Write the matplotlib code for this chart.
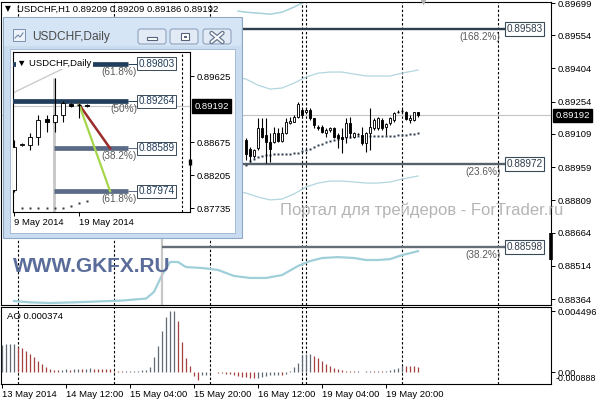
import matplotlib
matplotlib.use('Agg')
import matplotlib.pyplot as plt
from matplotlib.patches import Rectangle, FancyBboxPatch

W, H = 596, 400
FONT = ['Liberation Sans', 'DejaVu Sans']
plt.rcParams['font.family'] = FONT

# ------------------------------------------------------------------ data
symbol_main = 'USDCHF,H1'
symbol_inset = 'USDCHF,Daily'

bar_idx = list(range(61, 105))
opens = [0.89081, 0.89039, 0.89007, 0.89044, 0.89134, 0.89104, 0.89074, 0.89074, 0.89111, 0.89077,
         0.89111, 0.89157, 0.89164, 0.89186, 0.89216, 0.89209, 0.89216, 0.89179, 0.89142, 0.89142,
         0.89112, 0.89127, 0.89134, 0.89104, 0.89097, 0.89097, 0.89157, 0.89097, 0.89107, 0.89104,
         0.89067, 0.89112, 0.89134, 0.89134, 0.89172, 0.89142, 0.89157, 0.89172, 0.89209, 0.89212,
         0.89209, 0.89172, 0.89172, 0.89209]
highs = [0.89092, 0.89051, 0.89040, 0.89179, 0.89179, 0.89182, 0.89111, 0.89141, 0.89134, 0.89141,
         0.89179, 0.89186, 0.89194, 0.89251, 0.89227, 0.89224, 0.89224, 0.89182, 0.89149, 0.89149,
         0.89134, 0.89142, 0.89142, 0.89112, 0.89134, 0.89179, 0.89187, 0.89119, 0.89112, 0.89142,
         0.89119, 0.89224, 0.89179, 0.89187, 0.89179, 0.89157, 0.89187, 0.89209, 0.89216, 0.89221,
         0.89212, 0.89194, 0.89209, 0.89209]
lows = [0.88992, 0.88984, 0.89002, 0.89037, 0.89089, 0.88977, 0.88984, 0.89067, 0.89071, 0.89074,
        0.89107, 0.89152, 0.89161, 0.89182, 0.89186, 0.89201, 0.89171, 0.89134, 0.89127, 0.89112,
        0.89097, 0.89119, 0.89089, 0.89044, 0.89022, 0.89067, 0.89089, 0.89089, 0.89102, 0.89059,
        0.89029, 0.89037, 0.89127, 0.89127, 0.89127, 0.89104, 0.89149, 0.89164, 0.89201, 0.89201,
        0.89172, 0.89157, 0.89167, 0.89186]
closes = [0.89017, 0.89009, 0.89037, 0.89134, 0.89097, 0.89074, 0.89041, 0.89111, 0.89077, 0.89111,
          0.89164, 0.89167, 0.89186, 0.89246, 0.89194, 0.89216, 0.89179, 0.89149, 0.89134, 0.89119,
          0.89127, 0.89134, 0.89097, 0.89089, 0.89086, 0.89157, 0.89112, 0.89112, 0.89108, 0.89067,
          0.89112, 0.89142, 0.89172, 0.89179, 0.89134, 0.89152, 0.89179, 0.89201, 0.89208, 0.89211,
          0.89176, 0.89182, 0.89206, 0.89192]
sar_dots = [0.88968, 0.88985, 0.88996, 0.89003, 0.89008, 0.89012, 0.89015, 0.89017, 0.89018, 0.89018,
            0.89019, 0.89020, 0.89022, 0.89025, 0.89030, 0.89036, 0.89043, 0.89050, 0.89057, 0.89064,
            0.89071, 0.89077, 0.89083, 0.89088, 0.89092, 0.89095, 0.89097, 0.89098, 0.89099, 0.89099,
            0.89100, 0.89100, 0.89100, 0.89101, 0.89101, 0.89101, 0.89101, 0.89101, 0.89102, 0.89102,
            0.89104, 0.89107, 0.89110, 0.89114]

band_ll_idx = [3, 7, 12, 18, 24, 30, 36, 38, 40, 42, 44, 46, 50, 54, 58, 62, 66, 70, 74, 77, 80, 84,
               88, 91, 94, 97, 100, 104]
band_ll = [0.88355, 0.88349, 0.88346, 0.88349, 0.88353, 0.88357, 0.88366, 0.88396, 0.88472, 0.88531,
           0.88531, 0.88508, 0.88504, 0.88495, 0.88468, 0.88459, 0.88459, 0.88472, 0.88513, 0.88535,
           0.88549, 0.88553, 0.88549, 0.88540, 0.88540, 0.88544, 0.88562, 0.88580]
band_idx = [59, 61, 64, 67, 70, 73, 76, 79, 82, 85, 88, 91, 94, 97, 100, 104]
band_lu = [0.88850, 0.88842, 0.88824, 0.88811, 0.88815, 0.88838, 0.88869, 0.88887, 0.88896, 0.88896,
           0.88892, 0.88887, 0.88887, 0.88892, 0.88905, 0.88919]
band_ul = [0.89365, 0.89356, 0.89329, 0.89311, 0.89316, 0.89338, 0.89365, 0.89383, 0.89388, 0.89388,
           0.89379, 0.89370, 0.89370, 0.89370, 0.89383, 0.89397]
band_uu_idx = [59, 61, 64, 67, 70, 73, 76, 79, 82]
band_uu = [0.89663, 0.89658, 0.89654, 0.89649, 0.89658, 0.89681, 0.89708, 0.89735, 0.89758]

fib_levels = [0.89583, 0.88972, 0.88598]
fib_pcts = ['(168.2%)', '(23.6%)', '(38.2%)']
fib_start_idx = 40
fib_end_idx = 125.75

current_price = 0.89192
price_ticks = [0.89699, 0.89554, 0.89404, 0.89254, 0.89109, 0.88959, 0.88809, 0.88664, 0.88514, 0.88364]
separators = [4, 28, 52, 75, 76, 100, 124]
time_tick_idx = [0, 16, 32, 48, 64, 80, 96]
time_labels = ['13 May 2014', '14 May 12:00', '15 May 04:00', '15 May 20:00', '16 May 12:00',
               '19 May 04:00', '19 May 20:00']
ask_marker = [0.88662, 0.88540]

ao_values = [0.00200, 0.00207, 0.00208, 0.00210, 0.00188, 0.00175, 0.00155, 0.00135, 0.00112, 0.00085,
             0.00060, 0.00038, 0.00022, 0.00016, 0.00015, 0.00017, 0.00019, 0.00018, 0.00021, 0.00023,
             0.00022, 0.00025, 0.00026, 0.00024, 0.00023, 0.00022, 0.00021, 0.00020, 0.00008, 0.00006,
             0.00005, 0.00005, 0.00006, 0.00008, 0.00010, 0.00013, 0.00018, 0.00040, 0.00112, 0.00195,
             0.00300, 0.00410, 0.00448, 0.00450, 0.00380, 0.00220, 0.00100, 0.00043, -0.00030, -0.00060,
             -0.00025, -0.00020, -0.00010, -0.00003, -0.00005, -0.00008, -0.00012, -0.00018, -0.00025, -0.00030,
             -0.00035, -0.00040, -0.00045, -0.00048, -0.00042, -0.00036, -0.00030, -0.00025, -0.00022, -0.00020,
             -0.00022, -0.00015, 0.00005, 0.00040, 0.00070, 0.00125, 0.00130, 0.00132, 0.00120, 0.00105,
             0.00082, 0.00062, 0.00045, 0.00030, 0.00020, 0.00012, 0.00008, 0.00005, 0.00004, 0.00005,
             0.00003, 0.00004, 0.00006, 0.00005, 0.00007, 0.00006, 0.00009, 0.00014, 0.00020, 0.00028,
             0.00047, 0.00046, 0.00044, 0.00041, 0.000374]
ao_ticks = [0.004496, 0.0]
ao_min = -0.000888

# inset (daily)
d_idx = list(range(10))
d_open = [0.87993, 0.88637, 0.88637, 0.88752, 0.89009, 0.88966, 0.89067, 0.89224, 0.89210, 0.89209]
d_high = [0.88709, 0.88666, 0.88809, 0.89067, 0.89067, 0.89596, 0.89267, 0.89238, 0.89238, 0.89224]
d_low = [0.87964, 0.88623, 0.88565, 0.88637, 0.88823, 0.88823, 0.88966, 0.89181, 0.89024, 0.89181]
d_close = [0.88608, 0.88645, 0.88752, 0.88995, 0.88966, 0.89067, 0.89238, 0.89195, 0.89209, 0.89192]
d_sar_idx = [1, 2, 3, 4, 5, 6, 7, 8, 9]
d_sar = [0.87731, 0.87731, 0.87731, 0.87731, 0.87731, 0.87731, 0.87764, 0.87802, 0.87835]
d_band_idx = [0, 3, 6, 8]
d_band = [0.89390, 0.89560, 0.89730, 0.89850]
d_fib_levels = [0.89803, 0.89264, 0.88589, 0.87974]
d_fib_pcts = ['(61.8%)', '(50%)', '(38.2%)', '(61.8%)']
d_fib_start = [-0.2, -0.2, 4.9, 4.9]
d_fib_end = 14.0
d_ticks = [0.89625, 0.88675, 0.88205, 0.87735]
d_time_idx = [0, 8]
d_time_labels = ['9 May 2014', '19 May 2014']
d_vline = (4.9, 0.89596)
d_proj_from = (8, 0.89215)
d_proj_red = (11.8, 0.88589)
d_proj_green = (11.8, 0.87974)
d_separator = 20.6

# ------------------------------------------------------------------ helpers
def rect(x0, y0, x1, y1):
    return [x0 / W, 1 - y1 / H, (x1 - x0) / W, (y1 - y0) / H]

PX = 0.72  # points per pixel at 100 dpi
DASH = (0, (2.2, 1.8))
TXT = 6.8

def candles(a, xs, o, h, l, c, width, lw):
    for x, oo, hh, ll, cc in zip(xs, o, h, l, c):
        a.vlines(x, ll, hh, color='black', lw=lw, zorder=5)
        lo, hi = min(oo, cc), max(oo, cc)
        if hi - lo < 0.00002:
            a.hlines(oo, x - width / 2, x + width / 2, color='black', lw=lw * 1.2, zorder=6)
        else:
            a.bar(x, hi - lo, width, lo, facecolor='white' if cc >= oo else 'black',
                  edgecolor='black', lw=lw * 0.8, zorder=6)

def frame(a):
    for s in a.spines.values():
        s.set_color('black')
        s.set_linewidth(0.8)

# ------------------------------------------------------------------ figure
fig = plt.figure(figsize=(W / 100, H / 100), dpi=100)
fig.patch.set_facecolor('white')
XL = (-0.25, 137.25)

# main chart
ax = fig.add_axes(rect(1, 2, 551, 305))
ax.set_xlim(*XL)
ax.set_ylim(0.88337, 0.89704)
frame(ax)
ax.set_xticks([])
ax.yaxis.tick_right()
ax.set_yticks(price_ticks)
ax.set_yticklabels([f'{v:.5f}' for v in price_ticks])
ax.tick_params(axis='y', direction='out', length=3, width=0.7, labelsize=TXT, pad=1.5)

for s in separators:
    ax.axvline(s, color='black', lw=0.8, ls=DASH, zorder=1)
ax.axhline(current_price, color='#c4c4c4', lw=0.8, zorder=1)

ax.plot(band_ll_idx, band_ll, color='#9fcfd9', lw=1.6, zorder=2)
ax.plot(band_idx, band_lu, color='#b2d6df', lw=0.9, zorder=2)
ax.plot(band_idx, band_ul, color='#b2d6df', lw=0.9, zorder=2)
ax.plot(band_uu_idx, band_uu, color='#a8d1da', lw=1.1, zorder=2)

ax.vlines(fib_start_idx, ax.get_ylim()[0], fib_levels[0], color='#c8c8c8', lw=1.6, zorder=2)
fib_colors = ['#2f3e4c', '#56616b', '#646d75']
for lev, pct, col in zip(fib_levels, fib_pcts, fib_colors):
    ax.hlines(lev, fib_start_idx, fib_end_idx, color=col, lw=1.7, zorder=3)
    ax.text(126.1, lev, f'{lev:.5f}', ha='left', va='center', fontsize=7.2, color='#2f3d4b', zorder=8,
            bbox=dict(boxstyle='square,pad=0.18', fc='white', ec='#3a4a58', lw=0.8))
    ax.annotate(pct, xy=(124.6, lev), xytext=(0, -8 * PX), textcoords='offset points',
                ha='right', va='center', fontsize=7.2, color='#5a5a5a', zorder=8)

ax.plot(bar_idx, sar_dots, ls='none', marker='s', ms=1.8, color='#2c3d4e', mec='none', zorder=4)
candles(ax, bar_idx, opens, highs, lows, closes, 0.6, 0.8)

ax.plot([XL[1], XL[1]], ask_marker, color='black', lw=2.6, solid_capstyle='butt', clip_on=False, zorder=9)
ax.plot([bar_idx[-1] + 1.2], [ax.get_ylim()[1]], marker='v', ms=5, color='#b0b0b0', mec='none',
        clip_on=False, zorder=9)
ax.annotate(f'{current_price:.5f}', xy=(1, current_price), xycoords=('axes fraction', 'data'),
            xytext=(3.2, 0), textcoords='offset points', ha='left', va='center', fontsize=TXT,
            color='white', bbox=dict(boxstyle='square,pad=0.25', fc='black', ec='black'),
            annotation_clip=False, zorder=10)

# AO panel
axo = fig.add_axes(rect(1, 307, 551, 384))
axo.set_xlim(*XL)
axo.set_ylim(ao_min, 0.00481)
frame(axo)
for s in separators:
    axo.axvline(s, color='black', lw=0.8, ls=DASH, zorder=1)
ao_x = list(range(len(ao_values)))
ao_cols = ['#5f6a74' if i == 0 or ao_values[i] >= ao_values[i - 1] else '#a4403f'
           for i in range(len(ao_values))]
axo.vlines(ao_x, 0, ao_values, colors=ao_cols, lw=0.9, zorder=3)
axo.yaxis.tick_right()
axo.set_yticks(ao_ticks)
axo.set_yticklabels(['0.004496', '0.00'])
axo.tick_params(axis='y', direction='out', length=3, width=0.7, labelsize=TXT, pad=1.5)
axo.annotate(f'{ao_min:.6f}', xy=(1, 0), xycoords='axes fraction', xytext=(3, 5.5 * PX),
             textcoords='offset points', ha='left', va='center', fontsize=6.4, color='black',
             annotation_clip=False)
axo.set_xticks(time_tick_idx)
axo.set_xticklabels(time_labels)
for t in axo.get_xticklabels():
    t.set_ha('left')
axo.tick_params(axis='x', direction='out', length=3, width=0.7, labelsize=TXT, pad=1.2)
axo.text(0.011, 0.88, f'AO {ao_values[-1]:.6f}', transform=axo.transAxes, ha='left', va='center',
         fontsize=TXT, color='black')

# overlay for decorations in pixel space
ov = fig.add_axes([0, 0, 1, 1], zorder=3)
ov.set_xlim(0, W)
ov.set_ylim(H, 0)
ov.axis('off')
ov.patch.set_alpha(0)

ov.text(5, 9, '\u25bc', fontsize=5.5, ha='left', va='center', color='black', family=['DejaVu Sans'])
ov.text(17, 9.5, f'{symbol_main} {opens[-1]:.5f} {highs[-1]:.5f} {lows[-1]:.5f} {closes[-1]:.5f}',
        fontsize=TXT, ha='left', va='center', color='black')
ov.text(280, 210, 'Портал для трейдеров - ForTrader.ru', fontsize=12, color='#b5b5b5',
        ha='left', va='center')
ov.text(13, 266, 'WWW.GKFX.RU', fontsize=15, weight='bold', color='#5a6c99', ha='left', va='center')

# inset window chrome
ov.add_patch(Rectangle((3, 17), 239, 221, fc='#c9dcf0', ec='#8ea8c6', lw=0.8))
ov.add_patch(Rectangle((4, 18), 237, 28, fc='#d6e5f5', ec='none'))
ov.add_patch(Rectangle((10, 49), 225, 184, fc='white', ec='#9ab2ce', lw=0.6))
ov.add_patch(Rectangle((13, 29), 12, 12, fc='#eef3f9', ec='#7a90ae', lw=0.7))
ov.plot([15, 18, 20, 23], [38, 35, 37, 33], color='#6f86a8', lw=0.8)
ov.text(32, 37, symbol_inset, fontsize=8.6, color='#4a4a4a', ha='left', va='center')
for bx in (138, 170, 203):
    ov.add_patch(FancyBboxPatch((bx, 29), 28, 15, boxstyle='round,pad=0,rounding_size=2.5',
                                fc='#e1eaf5', ec='#8599b6', lw=0.7))
ov.add_patch(Rectangle((147, 37), 10, 3, fc='white', ec='#55647c', lw=0.8))
ov.add_patch(Rectangle((181, 33), 8, 7, fc='white', ec='#55647c', lw=0.8))
ov.add_patch(Rectangle((183.5, 35.5), 3, 2, fc='#55647c', ec='none'))
for (x0, y0, x1, y1) in ((211.5, 33, 222.5, 42), (222.5, 33, 211.5, 42)):
    ov.plot([x0, x1], [y0, y1], color='#66768f', lw=3.2, solid_capstyle='round')
for (x0, y0, x1, y1) in ((211.5, 33, 222.5, 42), (222.5, 33, 211.5, 42)):
    ov.plot([x0, x1], [y0, y1], color='white', lw=1.4, solid_capstyle='round')

# inset daily chart
ai = fig.add_axes(rect(13, 52, 190, 212), zorder=4)
ai.set_xlim(-0.12, 21.6)
ai.set_ylim(0.87678, 0.89969)
frame(ai)
ai.yaxis.tick_right()
ai.set_yticks(d_ticks)
ai.set_yticklabels([f'{v:.5f}' for v in d_ticks])
ai.tick_params(axis='y', direction='out', length=3, width=0.7, labelsize=TXT, pad=1.5)
ai.set_xticks(d_time_idx)
ai.set_xticklabels(d_time_labels)
for t in ai.get_xticklabels():
    t.set_ha('left')
ai.tick_params(axis='x', direction='out', length=3, width=0.7, labelsize=TXT, pad=1.2)

ai.axvline(d_separator, color='black', lw=0.8, ls=DASH, zorder=1)
ai.axhline(current_price, color='#c4c4c4', lw=0.8, zorder=1)
ai.plot(d_band_idx, d_band, color='#cccccc', lw=1.0, zorder=1)
ai.vlines(d_vline[0], ai.get_ylim()[0], d_vline[1], color='#c6c6c6', lw=2.0, zorder=1)
d_cols = ['#223e5c', '#223e5c', '#5b6a86', '#5b6a86']
for lev, pct, st, col in zip(d_fib_levels, d_fib_pcts, d_fib_start, d_cols):
    ai.hlines(lev, st, d_fib_end, color=col, lw=3.4, zorder=3)
    ai.hlines(lev, d_fib_end, 15.2, color=col, lw=0.7, zorder=3)
    ai.text(15.25, lev, f'{lev:.5f}', ha='left', va='center', fontsize=7.2, color='#223e5c', zorder=8,
            bbox=dict(boxstyle='square,pad=0.15', fc='white', ec='#3a4a58', lw=0.7))
    ai.annotate(pct, xy=(15.1, lev), xytext=(0, -8 * PX), textcoords='offset points',
                ha='right', va='center', fontsize=7.2, color='#5a5a5a', zorder=8)
ai.plot([d_proj_from[0], d_proj_red[0]], [d_proj_from[1], d_proj_red[1]], color='#9b2b2b', lw=1.8,
        zorder=4)
ai.plot([d_proj_from[0], d_proj_green[0]], [d_proj_from[1], d_proj_green[1]], color='#a6d64a', lw=1.6,
        zorder=4)
ai.plot(d_sar_idx, d_sar, ls='none', marker='s', ms=2.0, color='#333d48', mec='none', zorder=4)
candles(ai, d_idx, d_open, d_high, d_low, d_close, 0.5, 0.8)
ai.text(0.025, 0.93, '\u25bc ' + symbol_inset, transform=ai.transAxes, fontsize=TXT, ha='left',
        va='center', zorder=9, bbox=dict(boxstyle='square,pad=0.1', fc='white', ec='none'))
ai.annotate(f'{current_price:.5f}', xy=(1, current_price), xycoords=('axes fraction', 'data'),
            xytext=(3.2, 0), textcoords='offset points', ha='left', va='center', fontsize=TXT,
            color='white', bbox=dict(boxstyle='square,pad=0.25', fc='black', ec='black'),
            annotation_clip=False, zorder=10)
ai.plot([21.6, 21.6], [0.88432, 0.88346], color='black', lw=2.4, solid_capstyle='butt',
        clip_on=False, zorder=10)

fig.savefig('out.png', dpi=100, facecolor='white')
